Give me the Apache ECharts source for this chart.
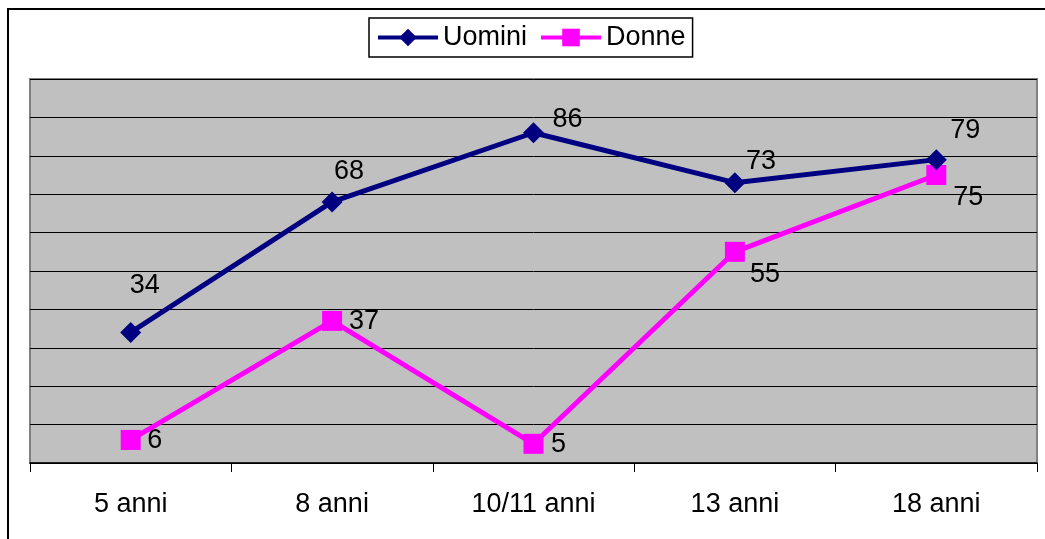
<!DOCTYPE html>
<html>
<head>
<meta charset="utf-8">
<script src="https://cdn.jsdelivr.net/npm/echarts@6/dist/echarts.min.js"></script>
<style>
html,body{margin:0;padding:0;background:#fff;}
#c{width:1045px;height:539px;}
</style>
</head>
<body>
<div id="c"></div>
<script>
const categories = ['5 anni', '8 anni', '10/11 anni', '13 anni', '18 anni'];
const uomini = [34, 68, 86, 73, 79];
const donne = [6, 37, 5, 55, 75];
const seriesNames = ['Uomini', 'Donne'];

// label offsets (px) relative to each marker centre
const uominiLabelOffsets = [[14, -47], [17, -30], [34, -13], [26, -21], [29, -29]];
const donneLabelOffsets = [[24, 1], [32, 1], [25, 1], [30, 23], [32, 23]];

const FONT = '"Liberation Sans", Arial, sans-serif';

function withLabels(values, offsets) {
  return values.map((v, i) => ({
    value: v,
    label: { offset: offsets[i] }
  }));
}

const chart = echarts.init(document.getElementById('c'), null, { renderer: 'canvas' });
chart.setOption({
  animation: false,
  backgroundColor: '#ffffff',
  graphic: [{
    type: 'rect',
    shape: { x: 8, y: 9, width: 1200, height: 700 },
    style: { fill: 'none', stroke: '#000', lineWidth: 2 },
    silent: true,
    z: -10
  }],
  legend: {
    left: 369,
    top: 18,
    backgroundColor: '#ffffff',
    borderColor: '#000',
    borderWidth: 1.5,
    padding: [6, 7, 6, 7],
    itemWidth: 60,
    itemHeight: 22,
    itemGap: 12,
    lineStyle: { width: 4 },
    textStyle: { fontFamily: FONT, fontSize: 27, color: '#000', padding: [2, 0, 0, 0] },
    data: seriesNames
  },
  grid: {
    left: 30, top: 79, right: 8, bottom: 76,
    show: true,
    backgroundColor: '#C0C0C0',
    borderColor: '#808080',
    borderWidth: 2
  },
  xAxis: {
    type: 'category',
    data: categories,
    boundaryGap: true,
    axisLine: { show: true, lineStyle: { color: '#000', width: 1.5 } },
    axisTick: { show: true, length: 9, interval: 0, lineStyle: { color: '#000', width: 1 } },
    axisLabel: { fontFamily: FONT, fontSize: 27, color: '#000', margin: 28, interval: 0 },
    splitLine: { show: false }
  },
  yAxis: {
    type: 'value',
    min: 0, max: 100, interval: 10,
    axisLabel: { show: false },
    axisLine: { show: false },
    axisTick: { show: false },
    splitLine: { show: true, lineStyle: { color: '#000', width: 1 } }
  },
  series: [
    {
      name: seriesNames[0],
      type: 'line',
      data: withLabels(uomini, uominiLabelOffsets),
      symbol: 'diamond',
      symbolSize: 21,
      color: '#000080',
      lineStyle: { color: '#000080', width: 5 },
      itemStyle: { color: '#000080' },
      label: {
        show: true, position: 'inside', align: 'center', verticalAlign: 'middle',
        fontFamily: FONT, fontSize: 27, color: '#000'
      },
      z: 3
    },
    {
      name: seriesNames[1],
      type: 'line',
      data: withLabels(donne, donneLabelOffsets),
      symbol: 'rect',
      symbolSize: 20,
      color: '#FF00FF',
      lineStyle: { color: '#FF00FF', width: 5 },
      itemStyle: { color: '#FF00FF' },
      label: {
        show: true, position: 'inside', align: 'center', verticalAlign: 'middle',
        fontFamily: FONT, fontSize: 27, color: '#000'
      },
      z: 2
    }
  ]
});
</script>
</body>
</html>
